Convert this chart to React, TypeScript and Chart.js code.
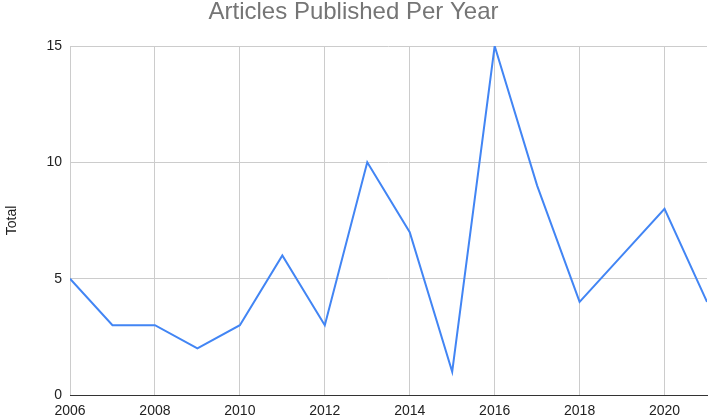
import React, { useEffect, useRef } from "react";
import { Chart, registerables } from "chart.js";

Chart.register(...registerables);

const years = [2006, 2007, 2008, 2009, 2010, 2011, 2012, 2013, 2014, 2015, 2016, 2017, 2018, 2019, 2020, 2021];
const totals = [5, 3, 3, 2, 3, 6, 3, 10, 7, 1, 15, 9, 4, 6, 8, 4];
const xTicks = [2006, 2008, 2010, 2012, 2014, 2016, 2018, 2020];
const yTicks = [0, 5, 10, 15];
const chartTitle = "Articles Published Per Year";
const yTitle = "Total";

export default function App() {
  const ref = useRef<HTMLCanvasElement | null>(null);
  useEffect(() => {
    if (!ref.current) return;
    const font = "'Liberation Sans', Arial, sans-serif";
    const chart = new Chart(ref.current, {
      type: "line",
      data: {
        datasets: [
          {
            data: years.map((y, i) => ({ x: y, y: totals[i] })),
            borderColor: "#4285F4",
            borderWidth: 2,
            pointRadius: 0,
            tension: 0,
            fill: false,
          },
        ],
      },
      options: {
        responsive: false,
        animation: false,
        layout: { padding: { left: 0, right: 1, top: 0, bottom: 0 } },
        plugins: {
          legend: { display: false },
          tooltip: { enabled: false },
          title: {
            display: true,
            text: chartTitle,
            color: "#757575",
            font: { family: font, size: 24, weight: "normal", lineHeight: 0.8 },
            padding: { top: 3, bottom: 23.8 },
          },
        },
        scales: {
          x: {
            type: "linear",
            min: years[0],
            max: years[years.length - 1],
            afterBuildTicks: (s: any) => {
              s.ticks = xTicks.map((v) => ({ value: v }));
            },
            afterFit: (s: any) => {
              s.height = 22;
            },
            grid: { color: "#cccccc", lineWidth: 1, drawTicks: false },
            border: { display: true, color: "#333333", width: 1 },
            ticks: {
              padding: 8,
              color: "#222222",
              font: { family: font, size: 14 },
              maxRotation: 0,
              autoSkip: false,
              callback: (v: any) => String(v),
            },
          },
          y: {
            min: yTicks[0],
            max: yTicks[yTicks.length - 1],
            afterBuildTicks: (s: any) => {
              s.ticks = yTicks.map((v) => ({ value: v }));
            },
            afterFit: (s: any) => {
              s.width = 70;
            },
            grid: {
              color: (c: any) => (c.tick && c.tick.value === 0 ? "#333333" : "#cccccc"),
              lineWidth: 1,
              drawTicks: false,
            },
            border: { display: false },
            title: {
              display: true,
              text: yTitle,
              color: "#222222",
              font: { family: font, size: 14 },
              padding: { top: 4, bottom: 0 },
            },
            ticks: {
              padding: 8,
              color: "#222222",
              font: { family: font, size: 14 },
            },
          },
        },
      },
    });
    return () => chart.destroy();
  }, []);
  return (
    <div style={{ position: "absolute", left: 0, top: 0, width: 708, height: 417, background: "#fff" }}>
      <canvas ref={ref} width={708} height={417} />
    </div>
  );
}
